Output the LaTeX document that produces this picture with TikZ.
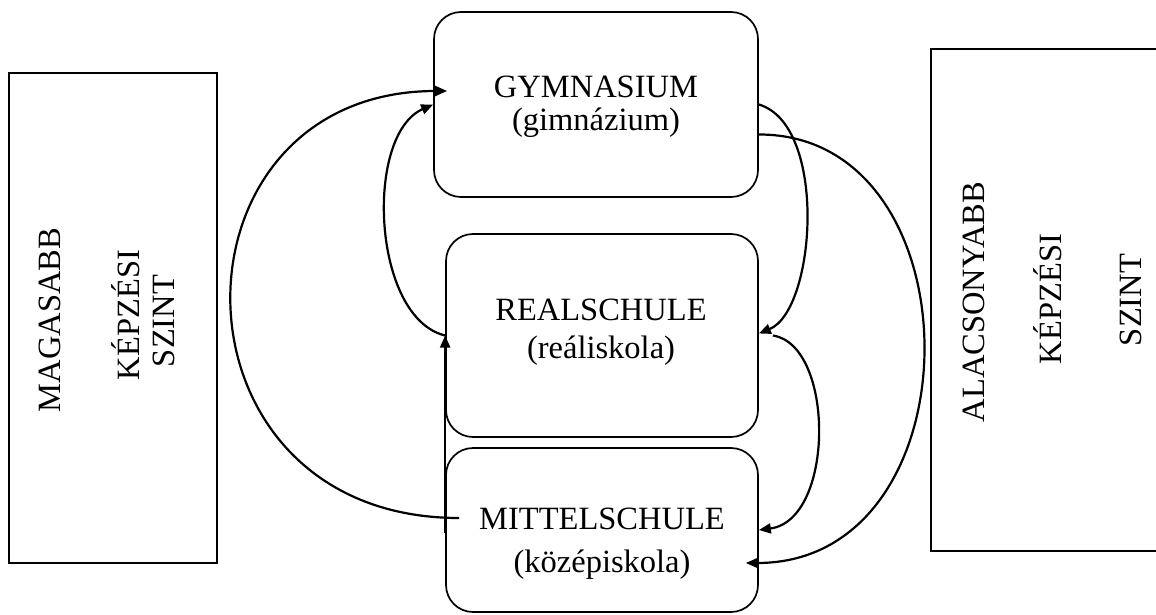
\documentclass[tikz,border=0pt]{standalone}
\usepackage{fontspec}
\setmainfont{Liberation Serif}
\usetikzlibrary{arrows.meta,calc}
\begin{document}
\begin{tikzpicture}[x=1pt,y=-1pt,
  sidebox/.style={draw, line width=2pt, inner sep=0pt},
  schoolbox/.style={draw, line width=1.7pt, rounded corners=27pt, inner sep=0pt},
  txt/.style={font=\fontsize{32.5}{36}\selectfont, anchor=base, inner sep=0pt},
  vtxt/.style={txt, rotate=90},
  conn/.style={line width=2.2pt, -{Triangle[length=12pt,width=10pt]}}
]
\useasboundingbox (0,0) rectangle (1156,615);
\fill[white] (0,0) rectangle (1156,615);

% side boxes
\node[sidebox, minimum width=208pt, minimum height=490pt] (L) at (113,318) {};
\node[sidebox, minimum width=239pt, minimum height=502pt] (R) at (1050.5,300) {};

\node[vtxt] (l1) at (60,320) {MAGASABB};
\node[vtxt] (l2) at (139,315) {KÉPZÉSI};
\node[vtxt] (l3) at (174,321) {SZINT};

\node[vtxt] (r1) at (984,302) {ALACSONYABB};
\node[vtxt] (r2) at (1061,299) {KÉPZÉSI};
\node[vtxt] (r3) at (1141,300) {SZINT};

% school boxes
\node[schoolbox, minimum width=324pt, minimum height=185pt] (G) at (596,104.5) {};
\node[schoolbox, minimum width=312pt, minimum height=203pt] (Re) at (602,335.5) {};
\node[schoolbox, minimum width=312pt, minimum height=164pt] (M) at (602,530) {};

\node[txt] (g1) at (596,98) {GYMNASIUM};
\node[txt] (g2) at (596,131) {(gimnázium)};
\node[txt] (re1) at (601,320) {REALSCHULE};
\node[txt] (re2) at (601,358) {(reáliskola)};
\node[txt] (m1) at (602,529) {MITTELSCHULE};
\node[txt] (m2) at (602,572) {(középiskola)};

% connectors
\draw[conn] ([xshift=14pt,yshift=12pt]M.west) .. controls (158,518) and (158,91) .. ([xshift=14pt,yshift=13.5pt]G.west);
\draw[conn] (Re.west) .. controls (372,318) and (364,135) .. (G.west);
\draw[conn] ([yshift=-3pt]M.west) -- (Re.west);
\draw[conn] (G.east) .. controls (828,125) and (816,310) .. ([yshift=2pt]Re.east);
\draw[conn] ([yshift=-30pt]G.east) .. controls (980,134) and (980,563) .. ([xshift=-13pt,yshift=-33pt]M.east);
\draw[conn] ([xshift=14pt]Re.east) .. controls (835,345) and (835,520) .. (M.east);
\end{tikzpicture}
\end{document}
